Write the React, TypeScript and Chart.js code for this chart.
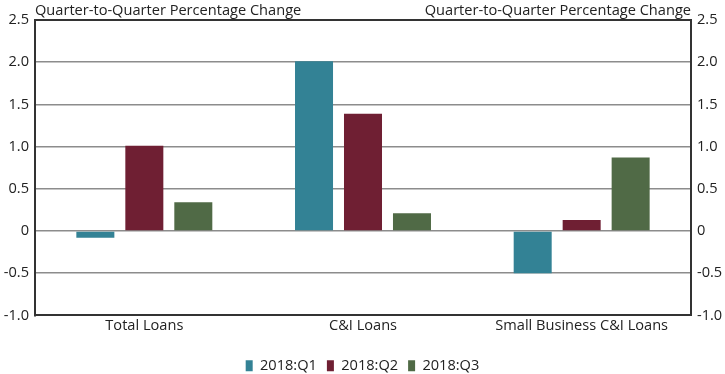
import React, { useEffect, useRef } from "react";
import { Chart, registerables } from "chart.js";

Chart.register(...registerables);

const categories = ["Total Loans", "C&I Loans", "Small Business C&I Loans"];
const seriesNames = ["2018:Q1", "2018:Q2", "2018:Q3"];
const q1Values = [-0.08, 2.01, -0.5];
const q2Values = [1.01, 1.39, 0.13];
const q3Values = [0.34, 0.21, 0.87];
const axisTitle = "Quarter-to-Quarter Percentage Change";
const yMin = -1.0;
const yMax = 2.5;
const yStep = 0.5;

const colors = ["#338295", "#6F1F33", "#506A46"];
const FONT = '"Open Sans", sans-serif';
const FS = 14.6;
const TEXT = "#222222";

const fmt = (v: number) => (Math.abs(v) < 1e-9 ? "0" : v.toFixed(1));

const titlesPlugin = {
  id: "axisTitles",
  afterDraw(chart: any) {
    const { ctx, chartArea } = chart;
    ctx.save();
    ctx.font = `${FS}px ${FONT}`;
    ctx.fillStyle = TEXT;
    ctx.textBaseline = "alphabetic";
    ctx.textAlign = "left";
    ctx.fillText(axisTitle, chartArea.left, 15);
    ctx.textAlign = "right";
    ctx.fillText(axisTitle, chartArea.right, 15);
    ctx.restore();
  },
};

export default function App() {
  const ref = useRef<HTMLCanvasElement | null>(null);
  useEffect(() => {
    document.body.style.margin = "0";
    if (!ref.current) return;
    const values = [q1Values, q2Values, q3Values];
    const chart = new Chart(ref.current, {
      type: "bar",
      data: {
        labels: categories,
        datasets: seriesNames.map((name, i) => ({
          label: name,
          data: values[i],
          backgroundColor: colors[i],
          borderWidth: 0,
          categoryPercentage: 0.672,
          barPercentage: 0.776,
          yAxisID: "y",
        })),
      },
      options: {
        animation: false,
        responsive: false,
        maintainAspectRatio: false,
        layout: { padding: { top: 20, bottom: -9, left: 0, right: 0 } },
        plugins: {
          tooltip: { enabled: false },
          legend: {
            position: "bottom",
            labels: {
              boxWidth: 7,
              boxHeight: 11,
              padding: 10,
              color: TEXT,
              font: { family: FONT, size: FS },
            },
          },
        },
        scales: {
          x: {
            afterFit: (s: any) => { s.height = 33; },
            grid: { display: false, drawTicks: false },
            border: { display: true, color: "#333333", width: 2 },
            ticks: { color: TEXT, font: { family: FONT, size: FS }, padding: 2, maxRotation: 0 },
          },
          y: {
            position: "left",
            min: yMin,
            max: yMax,
            afterFit: (s: any) => { s.width = 35; },
            border: { display: true, color: "#333333", width: 2 },
            grid: {
              drawTicks: false,
              color: (c: any) => {
                const v = c.tick?.value;
                if (Math.abs(v - yMax) < 1e-9) return "#333333";
                if (Math.abs(v - yMin) < 1e-9) return "rgba(0,0,0,0)";
                return "#8c8c8c";
              },
              lineWidth: (c: any) => (Math.abs(c.tick?.value - yMax) < 1e-9 ? 2 : 1.5),
            },
            ticks: {
              stepSize: yStep,
              padding: 6,
              color: TEXT,
              font: { family: FONT, size: FS },
              callback: (v: any) => fmt(Number(v)),
            },
          },
          y2: {
            position: "right",
            min: yMin,
            max: yMax,
            afterFit: (s: any) => { s.width = 34; },
            border: { display: true, color: "#333333", width: 2 },
            grid: { display: false, drawTicks: false },
            ticks: {
              stepSize: yStep,
              padding: 6,
              color: TEXT,
              font: { family: FONT, size: FS },
              callback: (v: any) => fmt(Number(v)),
            },
          },
        },
      },
      plugins: [titlesPlugin],
    } as any);
    return () => chart.destroy();
  }, []);
  return (
    <div style={{ width: 725, height: 374, background: "#fff" }}>
      <canvas ref={ref} width={725} height={374} style={{ display: "block" }} />
    </div>
  );
}
